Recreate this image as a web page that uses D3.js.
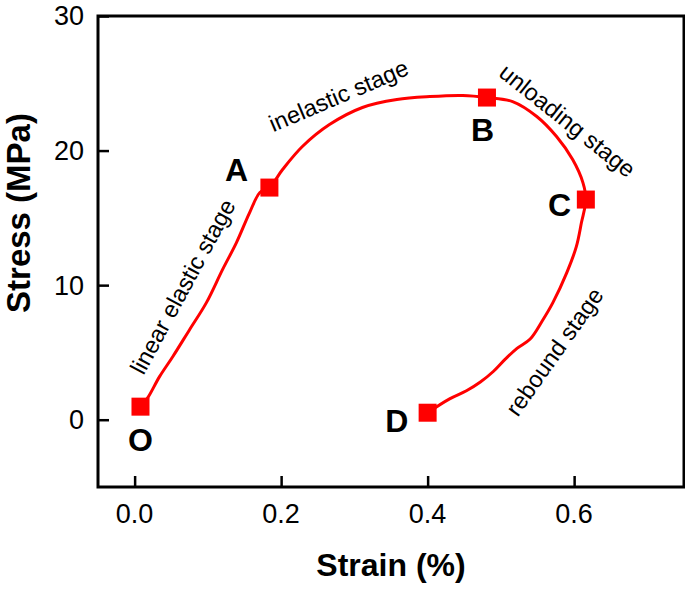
<!DOCTYPE html>
<html><head><meta charset="utf-8">
<script src="https://cdn.jsdelivr.net/npm/d3@7"></script>
<style>html,body{margin:0;padding:0;background:#fff;}svg{display:block;}</style>
</head><body>
<svg id="chart" width="685" height="589"></svg>
<script>
// Curve (strain %, stress MPa)
const curveStrain = [0.008,0.018,0.034,0.052,0.075,0.098,0.120,0.139,0.157,0.171,0.184,0.202,0.229,0.266,0.311,0.358,0.403,0.448,0.481,0.516,0.549,0.576,0.598,0.612,0.616,0.610,0.603,0.590,0.571,0.556,0.540,0.522,0.506,0.490,0.472,0.453,0.430,0.400];
const curveStress = [0.97,1.64,3.20,4.68,6.69,8.70,11.15,13.16,15.39,16.88,17.25,18.59,20.30,21.93,23.20,23.79,24.01,24.09,23.94,23.64,22.53,21.04,19.33,17.62,16.36,14.65,12.86,10.93,8.70,7.30,6.00,5.30,4.50,3.60,2.80,2.15,1.55,0.52];
// Key points
const pointNames = ["O","A","B","C","D"];
const pointStrain = [0.008,0.184,0.481,0.616,0.400];
const pointStress = [0.97,17.25,23.94,16.36,0.52];
const pointLabelStrain = [0.008,0.139,0.475,0.580,0.358];
const pointLabelStress = [-1.49,18.59,21.56,15.99,-0.07];
// Stage annotations
const stageNames = ["linear elastic stage","inelastic stage","unloading stage","rebound stage"];
const stageStrain = [0.0655,0.2785,0.591,0.573];
const stageStress = [9.89,24.09,22.23,5.06];
const stageAngle = [-61.5,-23,38.6,-54.7];
// Axes
const xTicks = [0.0,0.2,0.4,0.6];
const yTicks = [0,10,20,30];
const xDomain = [-0.05,0.75];
const yDomain = [-5,30];

const svg = d3.select("#chart");
const L = 98, R = 684, T = 16, B = 487;
const x = d3.scaleLinear().domain(xDomain).range([L,R]);
const y = d3.scaleLinear().domain(yDomain).range([B,T]);
const font = "'Liberation Sans', Arial, Helvetica, sans-serif";

// frame
svg.append("rect").attr("x",L).attr("y",T).attr("width",R-L).attr("height",B-T)
  .attr("fill","none").attr("stroke","#000").attr("stroke-width",3);

// x axis (ticks inward)
const xAxis = svg.append("g").attr("transform",`translate(0,${B})`)
  .call(d3.axisTop(x).tickValues(xTicks).tickSize(11).tickFormat(d3.format(".1f")));
xAxis.select(".domain").remove();
xAxis.selectAll(".tick line").attr("stroke","#000").attr("stroke-width",2.5);
xAxis.selectAll(".tick text").remove();
svg.append("g").selectAll("text").data(xTicks).join("text")
  .attr("x",d=>x(d)).attr("y",523).attr("text-anchor","middle")
  .attr("font-family",font).attr("font-size",27).text(d3.format(".1f"));

const yAxis = svg.append("g").attr("transform",`translate(${L},0)`)
  .call(d3.axisRight(y).tickValues(yTicks).tickSize(11));
yAxis.select(".domain").remove();
yAxis.selectAll(".tick line").attr("stroke","#000").attr("stroke-width",2.5);
yAxis.selectAll(".tick text").remove();
svg.append("g").selectAll("text").data(yTicks).join("text")
  .attr("x",84).attr("y",d=>y(d)).attr("dy","0.35em").attr("text-anchor","end")
  .attr("font-family",font).attr("font-size",27).text(d=>d);

// titles
svg.append("text").attr("x",(L+R)/2).attr("y",576).attr("text-anchor","middle")
  .attr("font-family",font).attr("font-weight","bold").attr("font-size",32).text("Strain (%)");
svg.append("text").attr("transform","translate(30,213) rotate(-90)").attr("text-anchor","middle")
  .attr("font-family",font).attr("font-weight","bold").attr("font-size",33).text("Stress (MPa)");

// curve
const pts = curveStrain.map((s,i)=>[s,curveStress[i]]);
svg.append("path").datum(pts)
  .attr("d",d3.line().x(d=>x(d[0])).y(d=>y(d[1])).curve(d3.curveCatmullRom.alpha(0.5)))
  .attr("fill","none").attr("stroke","#ff0000").attr("stroke-width",3);

// markers
const ms = 18;
svg.append("g").selectAll("rect").data(pointNames).join("rect")
  .attr("x",(d,i)=>x(pointStrain[i])-ms/2).attr("y",(d,i)=>y(pointStress[i])-ms/2)
  .attr("width",ms).attr("height",ms).attr("fill","#ff0000");

// point letters
svg.append("g").selectAll("text").data(pointNames).join("text")
  .attr("x",(d,i)=>x(pointLabelStrain[i])).attr("y",(d,i)=>y(pointLabelStress[i]))
  .attr("dy","0.36em").attr("text-anchor","middle")
  .attr("font-family",font).attr("font-weight","bold").attr("font-size",32).text(d=>d);

// stage labels
svg.append("g").selectAll("text").data(stageNames).join("text")
  .attr("transform",(d,i)=>`translate(${x(stageStrain[i])},${y(stageStress[i])}) rotate(${stageAngle[i]})`)
  .attr("dy","0.35em").attr("text-anchor","middle")
  .attr("font-family",font).attr("font-size",23.5).text(d=>d);
</script>
</body></html>
